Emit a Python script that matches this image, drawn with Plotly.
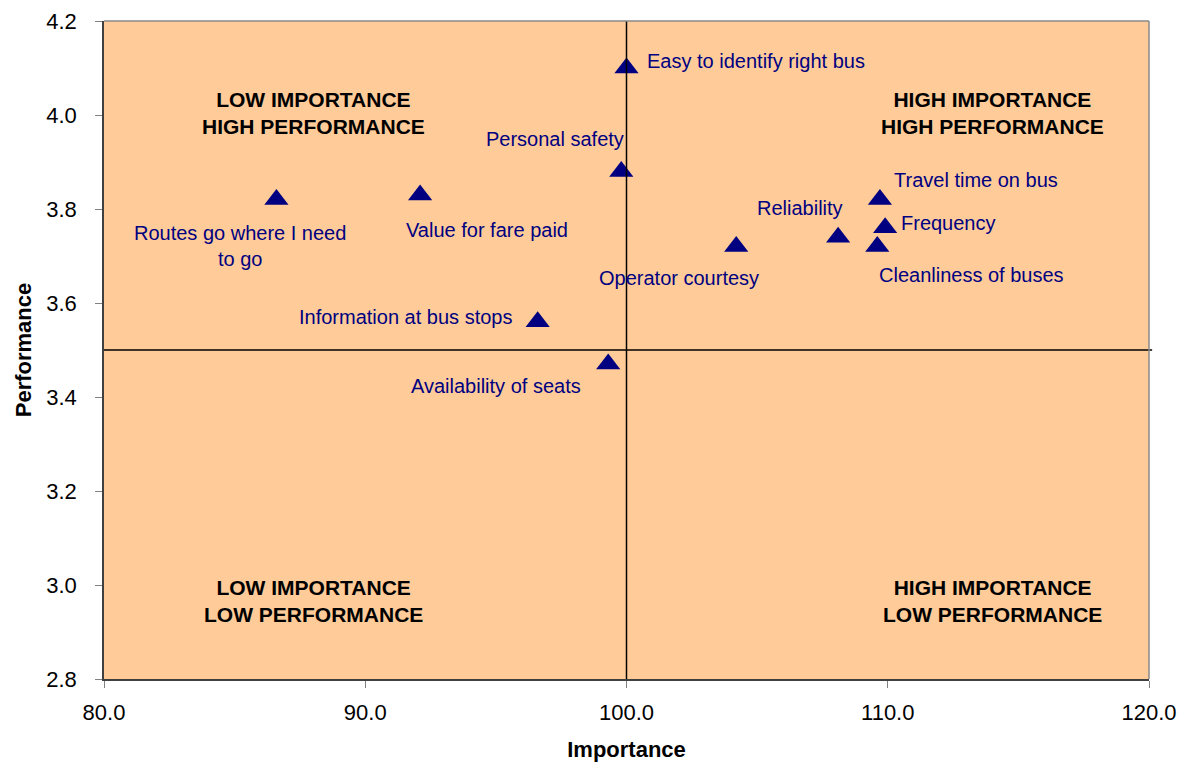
import plotly.graph_objects as go

# Service attributes: importance index vs. mean performance rating
attributes = [
    "Easy to identify right bus",
    "Personal safety",
    "Routes go where I need<br>to go",
    "Value for fare paid",
    "Travel time on bus",
    "Reliability",
    "Frequency",
    "Cleanliness of buses",
    "Operator courtesy",
    "Information at bus stops",
    "Availability of seats",
]
importance = [100.0, 99.8, 86.6, 92.1, 109.7, 108.1, 109.9, 109.6, 104.2, 96.6, 99.3]
performance = [4.10, 3.88, 3.82, 3.83, 3.82, 3.74, 3.76, 3.72, 3.72, 3.56, 3.47]

# Quadrant split points
importance_mid = 100.0
performance_mid = 3.5

x_ticks = [80.0, 90.0, 100.0, 110.0, 120.0]
y_ticks = [2.8, 3.0, 3.2, 3.4, 3.6, 3.8, 4.0, 4.2]

quadrant_text = [
    "LOW IMPORTANCE<br>HIGH PERFORMANCE",
    "HIGH IMPORTANCE<br>HIGH PERFORMANCE",
    "LOW IMPORTANCE<br>LOW PERFORMANCE",
    "HIGH IMPORTANCE<br>LOW PERFORMANCE",
]
quadrant_x = [88.0, 114.0, 88.0, 114.0]
quadrant_y = [4.005, 4.005, 2.965, 2.965]

NAVY = "#000080"
FONT = "Liberation Sans, Arial, sans-serif"

# label placement relative to each marker: (xanchor, xshift, yshift)
label_place = [
    ("left", 18, 7),
    ("right", 5, 32),
    ("center", -36, -46),
    ("center", 67, -35),
    ("left", 12, 20),
    ("right", 7, 29),
    ("left", 14, 5),
    ("left", 0, -28),
    ("right", 25, -31),
    ("right", -24, 5),
    ("right", -25, -22),
]

fig = go.Figure()
fig.add_trace(go.Scatter(
    x=importance, y=performance, mode="markers",
    marker=dict(symbol="triangle-up", size=21, color=NAVY, line=dict(width=0)),
    hoverinfo="skip", showlegend=False,
))

annotations = []
for name, xv, yv, (anchor, dx, dy) in zip(attributes, importance, performance, label_place):
    annotations.append(dict(
        x=xv, y=yv, xref="x", yref="y", text=name, showarrow=False,
        xanchor=anchor, yanchor="middle", xshift=dx, yshift=dy,
        align="center", font=dict(family=FONT, size=20, color=NAVY),
    ))
for txt, qx, qy in zip(quadrant_text, quadrant_x, quadrant_y):
    annotations.append(dict(
        x=qx, y=qy, xref="x", yref="y", text="<b>" + txt + "</b>", showarrow=False,
        xanchor="center", yanchor="middle", align="center",
        font=dict(family=FONT, size=21, color="black"),
    ))

shapes = [
    # quadrant dividers
    dict(type="line", xref="x", yref="paper", x0=importance_mid, x1=importance_mid,
         y0=0, y1=1, line=dict(color="black", width=1.5)),
    dict(type="line", xref="paper", yref="y", x0=0, x1=1.003,
         y0=performance_mid, y1=performance_mid, line=dict(color="black", width=1.5)),
    # light frame on top and right of the plot area
    dict(type="line", xref="paper", yref="paper", x0=0, x1=1, y0=1, y1=1,
         line=dict(color="#8a8a8a", width=1.5)),
    dict(type="line", xref="paper", yref="paper", x0=1, x1=1, y0=0, y1=1,
         line=dict(color="#8a8a8a", width=1.5)),
]

fig.update_layout(
    width=1182, height=762,
    margin=dict(l=104, r=33, t=21, b=83),
    paper_bgcolor="white", plot_bgcolor="#FFCC99",
    font=dict(family=FONT, size=20, color="black"),
    annotations=annotations, shapes=shapes,
)
fig.update_xaxes(
    range=[80, 120], tickvals=x_ticks, ticktext=[f"{v:.1f}" for v in x_ticks],
    showgrid=False, zeroline=False, showline=True, linecolor="#404040", linewidth=1.5,
    ticks="outside", ticklen=7, tickcolor="#808080", tickfont=dict(size=22),
    ticklabelstandoff=6, automargin=False,
    title=dict(text="<b>Importance</b>", font=dict(size=22), standoff=18),
)
fig.update_yaxes(
    range=[2.8, 4.2], tickvals=y_ticks, ticktext=[f"{v:.1f}" for v in y_ticks],
    showgrid=False, zeroline=False, showline=True, linecolor="#404040", linewidth=1.5,
    ticks="outside", ticklen=7, tickcolor="#808080", tickfont=dict(size=22),
    ticklabelstandoff=14, automargin=False,
    title=dict(text="<b>Performance</b>", font=dict(size=22), standoff=9),
)

fig.write_html("out.html")
